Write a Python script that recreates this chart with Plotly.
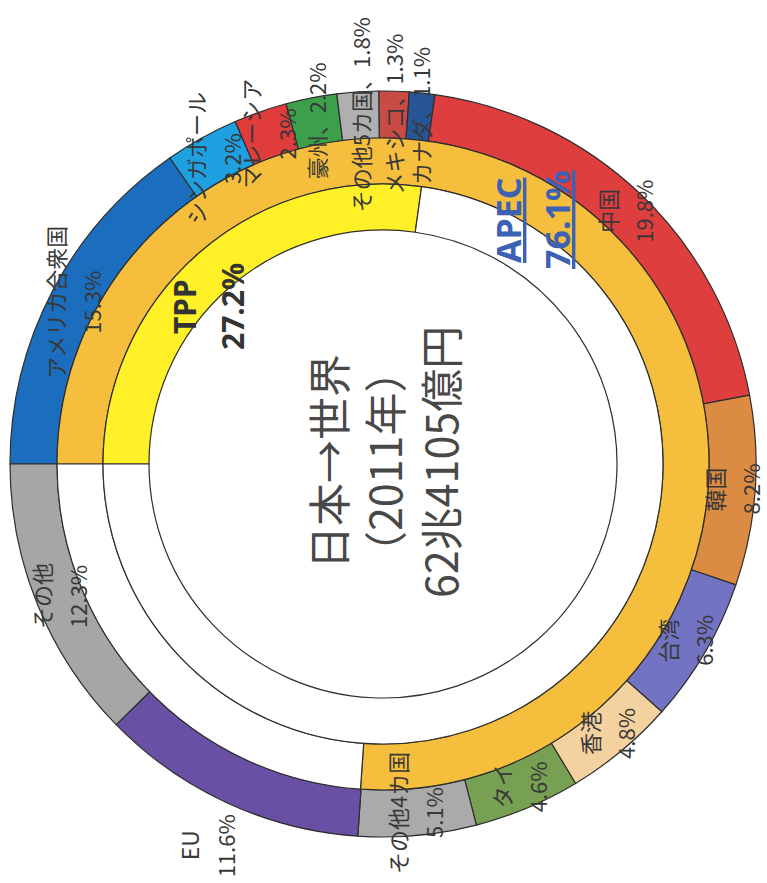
import math
import plotly.graph_objects as go

# ---------------- data ----------------
outer_names = ["アメリカ合衆国", "シンガポール", "マレーシア", "豪州", "その他5カ国", "メキシコ", "カナダ",
               "中国", "韓国", "台湾", "香港", "タイ", "その他4カ国", "EU", "その他"]
outer_values = [15.3, 3.2, 2.3, 2.2, 1.8, 1.3, 1.1,
                19.8, 8.2, 6.3, 4.8, 4.6, 5.1, 11.6, 12.3]
outer_colors = ["#1B6EBE", "#1EA0E1", "#E03C3C", "#3CA04B", "#AFAFAF", "#C84B46", "#285596",
                "#DE3E3D", "#DC8C42", "#7373C3", "#F4D2A0", "#78A052", "#AAAAAA", "#6A50A5", "#A6A6A6"]
single_line = ["豪州", "その他5カ国", "メキシコ", "カナダ"]
label_radius = {"EU": 420}

apec_names = ["APEC", "非APEC"]
apec_values = [76.1, 23.9]
apec_colors = ["#F5BE3C", "#FFFFFF"]

tpp_names = ["TPP", "非TPP"]
tpp_values = [27.2, 72.8]
tpp_colors = ["#FFF028", "#FFFFFF"]

title_lines = ["日本→世界", "（2011年）", "62兆4105億円"]

# ---------------- geometry ----------------
W, H = 767, 883
CX, CY = 383, 464          # centre in pixels
R_OUT, R_MID, R_IN, R_HOLE = 373, 326, 280, 234
ROT = -90                  # first slice starts at 9 o'clock, clockwise

def dom(r):
    return dict(x=[(CX - r) / W, (CX + r) / W],
                y=[(H - CY - r) / H, (H - CY + r) / H])

line = dict(color="#2E2E2E", width=1.2)
common = dict(sort=False, direction="clockwise", rotation=ROT,
              textinfo="none", hoverinfo="skip", showlegend=False)

fig = go.Figure()
fig.add_trace(go.Pie(labels=outer_names, values=outer_values, hole=R_MID / R_OUT,
                     domain=dom(R_OUT), marker=dict(colors=outer_colors, line=line), **common))
fig.add_trace(go.Pie(labels=apec_names, values=apec_values, hole=R_IN / R_MID,
                     domain=dom(R_MID), marker=dict(colors=apec_colors, line=line), **common))
fig.add_trace(go.Pie(labels=tpp_names, values=tpp_values, hole=R_HOLE / R_IN,
                     domain=dom(R_IN), marker=dict(colors=tpp_colors, line=line), **common))

def to_paper(px, py):
    return px / W, 1 - py / H

def base(px, py):
    x, y = to_paper(px, py)
    return dict(x=x, y=y, xref="paper", yref="paper", showarrow=False,
                textangle=-90, xanchor="center", yanchor="middle")

ann = []
label_font = dict(family="Noto Sans CJK JP", size=22, color="#383838")
total = sum(outer_values)
cum = 0.0
for name, v in zip(outer_names, outer_values):
    theta = math.radians(ROT + 360 * (cum + v / 2) / total)
    cum += v
    rho = label_radius.get(name, 350)
    px = CX + rho * math.sin(theta)
    py = CY - rho * math.cos(theta)
    pct = f"{v:.1f}%"
    b = base(px, py)
    if name in single_line:
        ann.append(dict(text=f"{name}、{pct}", font=label_font, **b))
    else:
        f1 = dict(label_font, size=23) if name == "EU" else label_font
        ann.append(dict(text=name, font=f1, xshift=-18, **b))
        ann.append(dict(text=pct, font=label_font, xshift=18, **b))

# ring labels
apec_font = dict(family="Noto Sans", size=34, color="#3D62B4", weight="bold", lineposition="under")
ann.append(dict(text=apec_names[0], xshift=-24, font=apec_font, **base(532, 220)))
ann.append(dict(text=f"{apec_values[0]:.1f}%", xshift=25, font=apec_font, **base(532, 220)))

tpp_font = dict(family="Noto Sans", size=30, color="#333333", weight="bold")
ann.append(dict(text=tpp_names[0], xshift=-24, font=tpp_font, **base(208, 307)))
ann.append(dict(text=f"{tpp_values[0]:.1f}%", xshift=24, font=tpp_font, **base(208, 307)))

# centre title
for i, t in enumerate(title_lines):
    ann.append(dict(text=t, xshift=(i - 1) * 56,
                    font=dict(family="Noto Sans CJK JP", size=43, color="#484848"),
                    **base(383, 462)))

fig.update_layout(width=W, height=H, margin=dict(l=0, r=0, t=0, b=0),
                  paper_bgcolor="white", plot_bgcolor="white",
                  annotations=ann, showlegend=False)

fig.write_html("out.html")
